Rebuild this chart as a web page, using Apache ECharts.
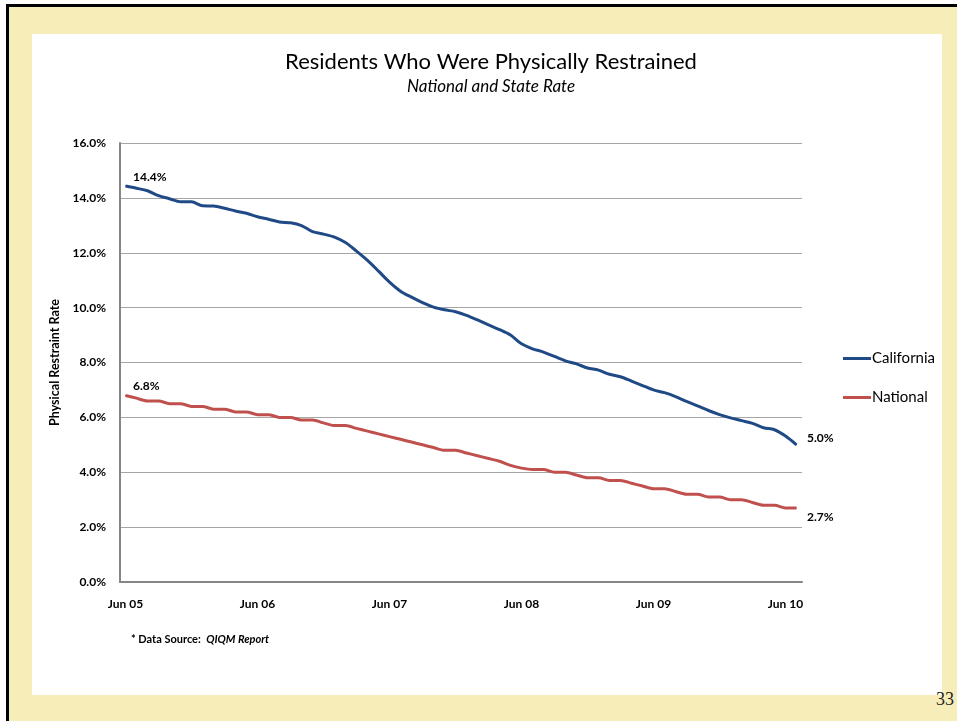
<!DOCTYPE html>
<html>
<head>
<meta charset="utf-8">
<script src="https://cdn.jsdelivr.net/npm/echarts@6/dist/echarts.min.js"></script>
<style>
  html, body { margin: 0; padding: 0; background: #fff; }
  #slide { position: absolute; left: 6px; top: 4px; width: 1000px; height: 800px;
           background: #F7EDB9; border-top: 3px solid #000; border-left: 3px solid #000; }
  #panel { position: absolute; left: 32px; top: 34px; width: 910px; height: 661px; background: #fff; }
  #page { position: absolute; left: 936px; top: 689px; font: 18px "Liberation Serif", serif; color: #222; }
  #chart { position: absolute; left: 0; top: 0; width: 957px; height: 721px; }
</style>
</head>
<body>
<div id="slide"></div>
<div id="panel"></div>
<div id="page">33</div>
<div id="chart"></div>
<script>
    // monthly, Jun 05 .. Jul 10
    var months = ['Jun 05', 'Jul 05', 'Aug 05', 'Sep 05', 'Oct 05', 'Nov 05', 'Dec 05',
        'Jan 06', 'Feb 06', 'Mar 06', 'Apr 06', 'May 06', 'Jun 06', 'Jul 06', 'Aug 06', 'Sep 06', 'Oct 06', 'Nov 06', 'Dec 06',
        'Jan 07', 'Feb 07', 'Mar 07', 'Apr 07', 'May 07', 'Jun 07', 'Jul 07', 'Aug 07', 'Sep 07', 'Oct 07', 'Nov 07', 'Dec 07',
        'Jan 08', 'Feb 08', 'Mar 08', 'Apr 08', 'May 08', 'Jun 08', 'Jul 08', 'Aug 08', 'Sep 08', 'Oct 08', 'Nov 08', 'Dec 08',
        'Jan 09', 'Feb 09', 'Mar 09', 'Apr 09', 'May 09', 'Jun 09', 'Jul 09', 'Aug 09', 'Sep 09', 'Oct 09', 'Nov 09', 'Dec 09',
        'Jan 10', 'Feb 10', 'Mar 10', 'Apr 10', 'May 10', 'Jun 10', 'Jul 10'];

    var california = [14.43, 14.35, 14.26, 14.08, 13.97, 13.86, 13.86, 13.71, 13.70, 13.62,
        13.52, 13.44, 13.31, 13.22, 13.12, 13.09, 12.99, 12.77, 12.68, 12.57,
        12.37, 12.06, 11.72, 11.33, 10.93, 10.6, 10.38, 10.18, 10.02, 9.92,
        9.85, 9.72, 9.55, 9.37, 9.2, 9.0, 8.68, 8.5, 8.38, 8.22,
        8.06, 7.95, 7.8, 7.72, 7.57, 7.48, 7.32, 7.16, 7.0, 6.9,
        6.76, 6.58, 6.42, 6.25, 6.1, 5.98, 5.88, 5.78, 5.62, 5.55,
        5.32, 5.0];

    var national = [6.8, 6.7, 6.6, 6.6, 6.5, 6.5, 6.4, 6.4, 6.3, 6.3,
        6.2, 6.2, 6.1, 6.1, 6.0, 6.0, 5.9, 5.9, 5.8, 5.7,
        5.7, 5.6, 5.5, 5.4, 5.3, 5.2, 5.1, 5.0, 4.9, 4.8,
        4.8, 4.7, 4.6, 4.5, 4.4, 4.25, 4.15, 4.1, 4.1, 4.0,
        4.0, 3.9, 3.8, 3.8, 3.7, 3.7, 3.6, 3.5, 3.4, 3.4,
        3.3, 3.2, 3.2, 3.1, 3.1, 3.0, 3.0, 2.9, 2.8, 2.8,
        2.7, 2.7];

    var yTicks = [0, 2, 4, 6, 8, 10, 12, 14, 16];

    var FONT = 'Lato, "Open Sans", sans-serif';

    // label only the first and last point
    function withEnds(arr, endOffsetY) {
        return arr.map(function (v, i) {
            if (i === 0) {
                return { value: v, label: { show: true, position: 'right', offset: [2, -9] } };
            }
            if (i === arr.length - 1) {
                return { value: v, label: { show: true, position: 'right', offset: [5, endOffsetY] } };
            }
            return v;
        });
    }

    var endLabel = {
        formatter: function (p) { return p.value.toFixed(1) + '%'; },
        fontFamily: FONT, fontWeight: 'bold', fontSize: 12, color: '#000'
    };

    var myChart = echarts.init(document.getElementById('chart'), null, { renderer: 'canvas' });

    var option = {
        backgroundColor: 'transparent',
        animation: false,
        title: {
            text: 'Residents Who Were Physically Restrained',
            subtext: 'National and State Rate',
            left: 486, top: 46, textAlign: 'center', itemGap: 5,
            textStyle: { fontFamily: FONT, fontWeight: 'normal', fontSize: 22, color: '#000' },
            subtextStyle: { fontFamily: FONT, fontStyle: 'italic', fontSize: 17, color: '#000' }
        },
        legend: {
            orient: 'vertical', left: 838, top: 346,
            itemWidth: 28, itemHeight: 3, itemGap: 24,
            icon: 'rect',
            textStyle: { fontFamily: FONT, fontSize: 15, color: '#000', padding: [0, 0, 0, -4] },
            data: ['California', 'National']
        },
        grid: { left: 120, right: 155, top: 143, bottom: 139 },
        xAxis: {
            type: 'category',
            data: months,
            boundaryGap: true,
            axisLine: { lineStyle: { color: '#868686', width: 2 } },
            axisTick: { show: false },
            axisLabel: {
                interval: 11, margin: 16,
                fontFamily: FONT, fontWeight: 'bold', fontSize: 12, color: '#000'
            },
            splitLine: { show: false }
        },
        yAxis: {
            type: 'value',
            min: yTicks[0], max: yTicks[yTicks.length - 1], interval: 2,
            name: 'Physical Restraint Rate',
            nameLocation: 'middle', nameGap: 57, nameRotate: 90,
            nameTextStyle: { fontFamily: FONT, fontWeight: 'bold', fontSize: 12.5, color: '#000' },
            axisLine: { show: true, lineStyle: { color: '#868686', width: 2 } },
            axisTick: { show: false },
            axisLabel: {
                margin: 14,
                formatter: function (v) { return v.toFixed(1) + '%'; },
                fontFamily: FONT, fontWeight: 'bold', fontSize: 12, color: '#000'
            },
            splitLine: { lineStyle: { color: '#A6A6A6', width: 1 } }
        },
        series: [
            {
                name: 'California', type: 'line', smooth: 0.3,
                symbol: 'circle', symbolSize: 1, showSymbol: true, showAllSymbol: true,
                color: '#1F4A86',
                lineStyle: { width: 3, color: '#1F4A86' },
                label: endLabel,
                data: withEnds(california, -7)
            },
            {
                name: 'National', type: 'line', smooth: 0.3,
                symbol: 'circle', symbolSize: 1, showSymbol: true, showAllSymbol: true,
                color: '#C0504D',
                lineStyle: { width: 3, color: '#C0504D' },
                label: endLabel,
                data: withEnds(national, 9)
            }
        ],
        graphic: [
            {
                type: 'text', left: 131, top: 634,
                style: {
                    text: '{a|* Data Source:  }{b|QIQM Report}',
                    rich: {
                        a: { fontFamily: FONT, fontWeight: 'bold', fontSize: 11, fill: '#000' },
                        b: { fontFamily: FONT, fontWeight: 'bold', fontStyle: 'italic', fontSize: 11, fill: '#000' }
                    }
                }
            }
        ]
    };

    myChart.setOption(option);
</script>
</body>
</html>
